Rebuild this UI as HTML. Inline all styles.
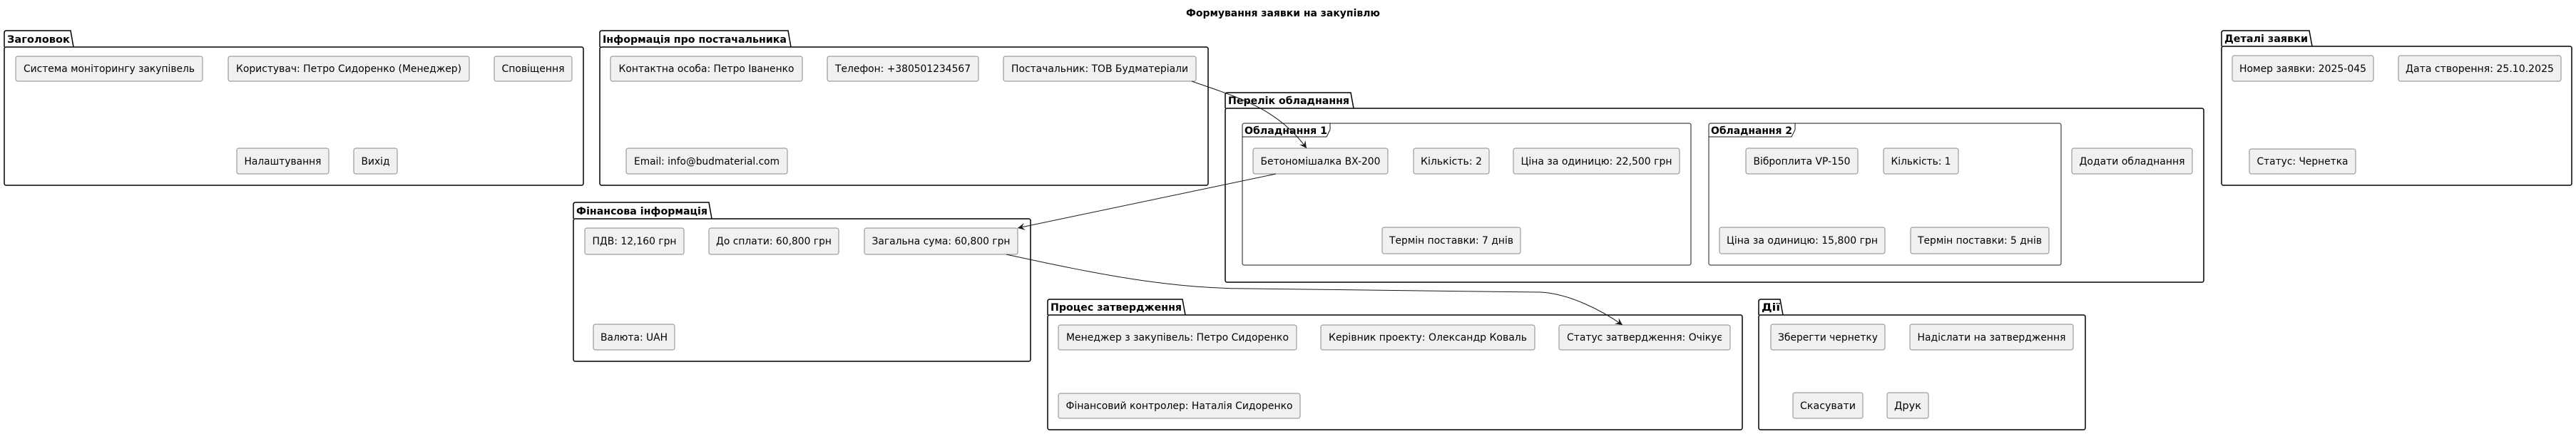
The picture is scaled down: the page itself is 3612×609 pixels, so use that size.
<!DOCTYPE html>
<html><head><meta charset="utf-8">
<style>
html,body{margin:0;padding:0;background:#fff;}
svg{display:block;}
.n{fill:#F1F1F1;stroke:#181818;stroke-width:0.5;}
.p{fill:none;stroke:#000;stroke-width:1.5;}
.t{font-family:"DejaVu Sans","Liberation Sans",sans-serif;font-size:14px;fill:#000;}
.b{font-family:"DejaVu Sans","Liberation Sans",sans-serif;font-size:14px;font-weight:bold;fill:#000;}
.e{fill:none;stroke:#181818;stroke-width:1;}
</style></head>
<body>
<svg width="3612" height="609" viewBox="0 0 3612 609" xmlns="http://www.w3.org/2000/svg">
<defs>
<marker id="ah" markerWidth="12" markerHeight="10" refX="10" refY="5" orient="auto" markerUnits="userSpaceOnUse">
<path d="M0,0 L10,5 L0,10 L4,5 Z" fill="#181818"/>
</marker>
</defs>

<text class="b" x="1799" y="23" text-anchor="middle" textLength="272" lengthAdjust="spacingAndGlyphs">Формування заявки на закупівлю</text>

<!-- Packages -->
<g id="pk">
<!-- Заголовок -->
<path class="p" d="M6,66 L6,46 Q6,43 9,43 L99,43 L103,66"/>
<rect class="p" x="6" y="66" width="812" height="194" rx="2.5"/>
<text class="b" x="10" y="60" textLength="88" lengthAdjust="spacingAndGlyphs">Заголовок</text>
<!-- Інформація -->
<path class="p" d="M841,66 L841,46 Q841,43 844,43 L1105,43 L1109,66"/>
<rect class="p" x="841" y="66" width="853" height="194" rx="2.5"/>
<text class="b" x="845" y="60" textLength="258" lengthAdjust="spacingAndGlyphs">Інформація про постачальника</text>
<!-- Фінансова -->
<path class="p" d="M804,307 L804,287 Q804,284 807,284 L994,284 L998,307"/>
<rect class="p" x="804" y="307" width="641" height="200" rx="2.5"/>
<text class="b" x="808" y="301" textLength="184" lengthAdjust="spacingAndGlyphs">Фінансова інформація</text>
<!-- Перелік -->
<path class="p" d="M1718,152 L1718,133 Q1718,130 1721,130 L1894,130 L1898,152"/>
<rect class="p" x="1718" y="152" width="1372" height="244" rx="2.5"/>
<text class="b" x="1722" y="146" textLength="170" lengthAdjust="spacingAndGlyphs">Перелік обладнання</text>
<!-- Процес -->
<path class="p" d="M1469,442 L1469,423 Q1469,420 1472,420 L1658,420 L1662,442"/>
<rect class="p" x="1469" y="442" width="974" height="161" rx="2.5"/>
<text class="b" x="1473" y="436" textLength="184" lengthAdjust="spacingAndGlyphs">Процес затвердження</text>
<!-- Дії -->
<path class="p" d="M2466,442 L2466,423 Q2466,420 2469,420 L2496,420 L2500,442"/>
<rect class="p" x="2466" y="442" width="458" height="161" rx="2.5"/>
<text class="b" x="2470" y="436" textLength="26" lengthAdjust="spacingAndGlyphs">Дії</text>
<!-- Деталі -->
<path class="p" d="M3115,65 L3115,46 Q3115,43 3118,43 L3238,43 L3242,65"/>
<rect class="p" x="3115" y="65" width="491" height="195" rx="2.5"/>
<text class="b" x="3119" y="59" textLength="117" lengthAdjust="spacingAndGlyphs">Деталі заявки</text>
</g>

<!-- Frames -->
<rect class="e" x="1742" y="173" width="629" height="199" rx="2.5"/>
<path class="e" d="M1742,192 L1860,192 L1865,182 L1865,173"/>
<text class="b" x="1745" y="188" textLength="116" lengthAdjust="spacingAndGlyphs">Обладнання 1</text>
<rect class="e" x="2396" y="173" width="494" height="199" rx="2.5"/>
<path class="e" d="M2396,192 L2512,192 L2517,182 L2517,173"/>
<text class="b" x="2399" y="188" textLength="114" lengthAdjust="spacingAndGlyphs">Обладнання 2</text>

<!-- Nodes -->
<g>
<rect class="n" x="22" y="79" width="262" height="35" rx="2.5"/><text class="t" x="153" y="101" text-anchor="middle" textLength="240" lengthAdjust="spacingAndGlyphs">Система моніторингу закупівель</text>
<rect class="n" x="320" y="79" width="338" height="35" rx="2.5"/><text class="t" x="489" y="101" text-anchor="middle" textLength="316" lengthAdjust="spacingAndGlyphs">Користувач: Петро Сидоренко (Менеджер)</text>
<rect class="n" x="693" y="79" width="109" height="35" rx="2.5"/><text class="t" x="747.5" y="101" text-anchor="middle" textLength="88" lengthAdjust="spacingAndGlyphs">Сповіщення</text>
<rect class="n" x="332" y="208" width="129" height="36" rx="2.5"/><text class="t" x="396.5" y="231" text-anchor="middle" textLength="108" lengthAdjust="spacingAndGlyphs">Налаштування</text>
<rect class="n" x="496" y="208" width="61" height="36" rx="2.5"/><text class="t" x="526.5" y="231" text-anchor="middle" textLength="40" lengthAdjust="spacingAndGlyphs">Вихід</text>

<rect class="n" x="856" y="79" width="269" height="35" rx="2.5"/><text class="t" x="990.5" y="101" text-anchor="middle" textLength="246" lengthAdjust="spacingAndGlyphs">Контактна особа: Петро Іваненко</text>
<rect class="n" x="1160" y="79" width="212" height="35" rx="2.5"/><text class="t" x="1266" y="101" text-anchor="middle" textLength="190" lengthAdjust="spacingAndGlyphs">Телефон: +380501234567</text>
<rect class="n" x="1407" y="79" width="270" height="35" rx="2.5"/><text class="t" x="1542" y="101" text-anchor="middle" textLength="248" lengthAdjust="spacingAndGlyphs">Постачальник: ТОВ Будматеріали</text>
<rect class="n" x="878" y="208" width="226" height="36" rx="2.5"/><text class="t" x="991" y="231" text-anchor="middle" textLength="204" lengthAdjust="spacingAndGlyphs">Email: info@budmaterial.com</text>

<rect class="n" x="820" y="320" width="139" height="37" rx="2.5"/><text class="t" x="889.5" y="343" text-anchor="middle" textLength="118" lengthAdjust="spacingAndGlyphs">ПДВ: 12,160 грн</text>
<rect class="n" x="994" y="320" width="182" height="37" rx="2.5"/><text class="t" x="1085" y="343" text-anchor="middle" textLength="162" lengthAdjust="spacingAndGlyphs">До сплати: 60,800 грн</text>
<rect class="n" x="1212" y="320" width="215" height="37" rx="2.5"/><text class="t" x="1319.5" y="343" text-anchor="middle" textLength="194" lengthAdjust="spacingAndGlyphs">Загальна сума: 60,800 грн</text>
<rect class="n" x="832" y="455" width="114" height="36" rx="2.5"/><text class="t" x="889" y="478" text-anchor="middle" textLength="94" lengthAdjust="spacingAndGlyphs">Валюта: UAH</text>

<rect class="n" x="1757" y="208" width="189" height="36" rx="2.5"/><text class="t" x="1851.5" y="231" text-anchor="middle" textLength="168" lengthAdjust="spacingAndGlyphs">Бетономішалка BX-200</text>
<rect class="n" x="1982" y="208" width="106" height="36" rx="2.5"/><text class="t" x="2035" y="231" text-anchor="middle" textLength="86" lengthAdjust="spacingAndGlyphs">Кількість: 2</text>
<rect class="n" x="2122" y="208" width="233" height="36" rx="2.5"/><text class="t" x="2238.5" y="231" text-anchor="middle" textLength="212" lengthAdjust="spacingAndGlyphs">Ціна за одиницю: 22,500 грн</text>
<rect class="n" x="1938" y="319" width="194" height="37" rx="2.5"/><text class="t" x="2035" y="342" text-anchor="middle" textLength="174" lengthAdjust="spacingAndGlyphs">Термін поставки: 7 днів</text>

<rect class="n" x="2448" y="208" width="157" height="36" rx="2.5"/><text class="t" x="2526.5" y="231" text-anchor="middle" textLength="136" lengthAdjust="spacingAndGlyphs">Віброплита VP-150</text>
<rect class="n" x="2641" y="208" width="105" height="36" rx="2.5"/><text class="t" x="2693.5" y="231" text-anchor="middle" textLength="84" lengthAdjust="spacingAndGlyphs">Кількість: 1</text>
<rect class="n" x="2411" y="319" width="232" height="37" rx="2.5"/><text class="t" x="2527" y="342" text-anchor="middle" textLength="212" lengthAdjust="spacingAndGlyphs">Ціна за одиницю: 15,800 грн</text>
<rect class="n" x="2679" y="319" width="194" height="37" rx="2.5"/><text class="t" x="2776" y="342" text-anchor="middle" textLength="174" lengthAdjust="spacingAndGlyphs">Термін поставки: 5 днів</text>
<rect class="n" x="2905" y="208" width="169" height="36" rx="2.5"/><text class="t" x="2989.5" y="231" text-anchor="middle" textLength="148" lengthAdjust="spacingAndGlyphs">Додати обладнання</text>

<rect class="n" x="1484" y="456" width="334" height="35" rx="2.5"/><text class="t" x="1651" y="478" text-anchor="middle" textLength="312" lengthAdjust="spacingAndGlyphs">Менеджер з закупівель: Петро Сидоренко</text>
<rect class="n" x="1852" y="456" width="300" height="35" rx="2.5"/><text class="t" x="2002" y="478" text-anchor="middle" textLength="278" lengthAdjust="spacingAndGlyphs">Керівник проекту: Олександр Коваль</text>
<rect class="n" x="2186" y="456" width="240" height="35" rx="2.5"/><text class="t" x="2306" y="478" text-anchor="middle" textLength="218" lengthAdjust="spacingAndGlyphs">Статус затвердження: Очікує</text>
<rect class="n" x="1484" y="552" width="339" height="35" rx="2.5"/><text class="t" x="1653.5" y="574" text-anchor="middle" textLength="318" lengthAdjust="spacingAndGlyphs">Фінансовий контролер: Наталія Сидоренко</text>

<rect class="n" x="2483" y="455" width="160" height="36" rx="2.5"/><text class="t" x="2563" y="478" text-anchor="middle" textLength="140" lengthAdjust="spacingAndGlyphs">Зберегти чернетку</text>
<rect class="n" x="2678" y="455" width="229" height="36" rx="2.5"/><text class="t" x="2792.5" y="478" text-anchor="middle" textLength="208" lengthAdjust="spacingAndGlyphs">Надіслати на затвердження</text>
<rect class="n" x="2514" y="551" width="98" height="36" rx="2.5"/><text class="t" x="2563" y="574" text-anchor="middle" textLength="78" lengthAdjust="spacingAndGlyphs">Скасувати</text>
<rect class="n" x="2646" y="551" width="58" height="36" rx="2.5"/><text class="t" x="2675" y="574" text-anchor="middle" textLength="38" lengthAdjust="spacingAndGlyphs">Друк</text>

<rect class="n" x="3130" y="78" width="198" height="36" rx="2.5"/><text class="t" x="3229" y="101" text-anchor="middle" textLength="178" lengthAdjust="spacingAndGlyphs">Номер заявки: 2025-045</text>
<rect class="n" x="3363" y="78" width="228" height="36" rx="2.5"/><text class="t" x="3477" y="101" text-anchor="middle" textLength="208" lengthAdjust="spacingAndGlyphs">Дата створення: 25.10.2025</text>
<rect class="n" x="3154" y="209" width="149" height="35" rx="2.5"/><text class="t" x="3228.5" y="231" text-anchor="middle" textLength="128" lengthAdjust="spacingAndGlyphs">Статус: Чернетка</text>
</g>

<!-- Edges -->
<path class="e" d="M1671,114 C1730,135 1790,150 1832,208" marker-end="url(#ah)"/>
<path class="e" d="M1789,244 L1427,320" marker-end="url(#ah)"/>
<path class="e" d="M1411,357 C1540,385 1640,405 1750,405 L2160,410 C2200,412 2245,435 2275,456" marker-end="url(#ah)"/>
</svg>
</body></html>
